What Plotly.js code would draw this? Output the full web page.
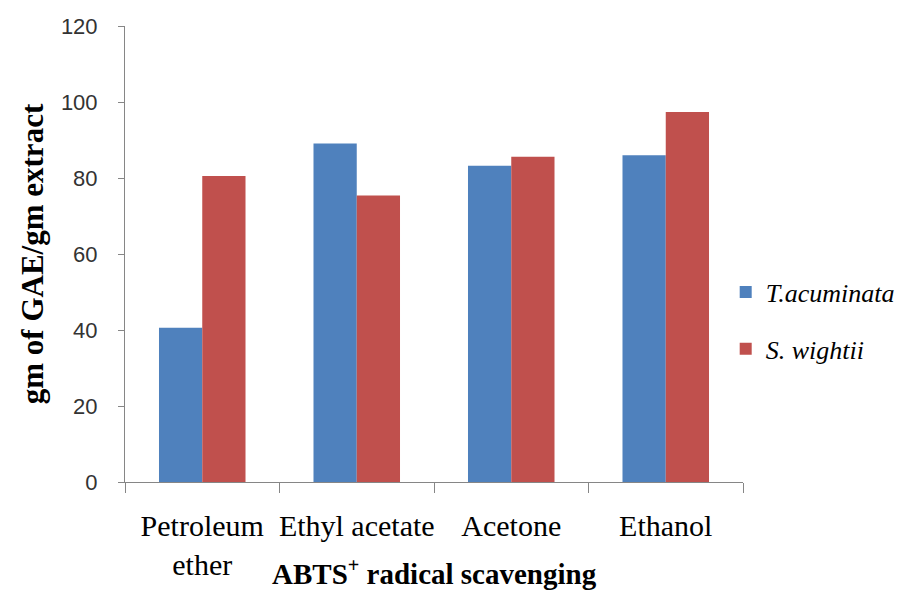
<!DOCTYPE html>
<html>
<head>
<meta charset="utf-8">
<script src="https://cdn.plot.ly/plotly-3.0.1.min.js"></script>
<style>
  html, body { margin: 0; padding: 0; background: #ffffff; }
  #chart { width: 898px; height: 593px; }
</style>
</head>
<body>
<div id="chart"></div>
<script>
// Solvent extracts on the x axis
const solvents = ["Petroleum<br>ether", "Ethyl acetate", "Acetone", "Ethanol"];

// ABTS+ radical scavenging, gm of GAE / gm extract
const tAcuminata = [40.6, 89.1, 83.2, 86.0];
const sWightii   = [80.5, 75.4, 85.6, 97.4];

const yTicks = [0, 20, 40, 60, 80, 100, 120];

const seriesNames = ["<i>T.acuminata</i>", "<i>S. wightii</i>"];
const seriesColors = ["#4F81BD", "#C0504D"];

const serif = "Liberation Serif";
const sans = "Liberation Sans";

const traces = [tAcuminata, sWightii].map((vals, i) => ({
  type: "bar",
  x: solvents,
  y: vals,
  name: seriesNames[i],
  legendgroup: "g" + i,
  marker: { color: seriesColors[i], line: { width: 0 } },
  hoverinfo: "x+y+name"
}));

const axisGray = "#868686";

const layout = {
  width: 898,
  height: 593,
  paper_bgcolor: "#ffffff",
  plot_bgcolor: "#ffffff",
  margin: { l: 125, r: 155, t: 26, b: 111, autoexpand: false },
  barmode: "group",
  bargap: 0.44,
  bargroupgap: 0,
  showlegend: true,
  legend: {
    x: 0.972, xanchor: "left",
    y: 0.468, yanchor: "top",
    traceorder: "grouped",
    tracegroupgap: 20,
    font: { family: serif, size: 26, color: "#000000" },
    bgcolor: "rgba(0,0,0,0)",
    itemclick: false
  },
  xaxis: {
    type: "category",
    range: [-0.5, 3.5],
    showline: true,
    linecolor: axisGray,
    linewidth: 1,
    ticks: "outside",
    tickson: "boundaries",
    ticklen: 10,
    tickcolor: axisGray,
    tickangle: 0,
    ticklabelstandoff: 17,
    showgrid: false,
    zeroline: false,
    tickfont: { family: serif, size: 30, color: "#000000" },
    fixedrange: true
  },
  yaxis: {
    range: [0, 120],
    tickvals: yTicks,
    ticktext: yTicks.map(String),
    showline: true,
    linecolor: axisGray,
    linewidth: 1,
    ticks: "outside",
    ticklen: 6,
    tickcolor: axisGray,
    ticklabelstandoff: 16,
    showgrid: false,
    zeroline: false,
    tickfont: { family: sans, size: 22, color: "#333333" },
    title: {
      text: "<b>gm of GAE/gm extract</b>",
      font: { family: serif, size: 31, color: "#000000" },
      standoff: 8
    },
    fixedrange: true
  },
  annotations: [{
    text: "<b>ABTS<sup>+</sup> radical scavenging</b>",
    xref: "paper", yref: "paper",
    x: 0.5, y: -0.241,
    xanchor: "center", yanchor: "bottom",
    showarrow: false,
    font: { family: serif, size: 29, color: "#000000" }
  }]
};

Plotly.newPlot("chart", traces, layout, { displayModeBar: false });
</script>
</body>
</html>
